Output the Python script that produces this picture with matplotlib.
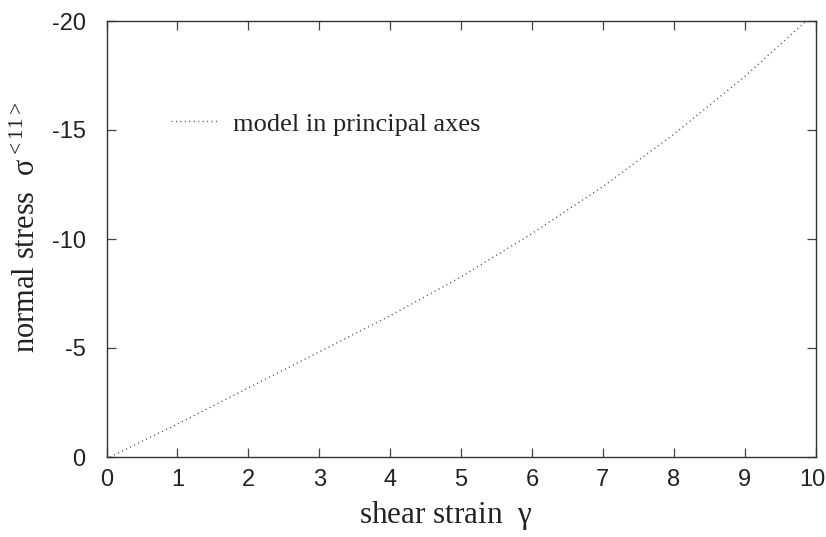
import matplotlib
matplotlib.use("Agg")
import matplotlib.pyplot as plt
from matplotlib.transforms import ScaledTranslation

# data
gamma = [0.05, 1.0, 2.0, 3.0, 4.0, 5.0, 6.0, 7.0, 8.0, 9.0, 9.87]
sigma11 = [0.0, -1.51, -3.17, -4.82, -6.48, -8.26, -10.25, -12.40, -14.80, -17.45, -20.0]

xticks = [0, 1, 2, 3, 4, 5, 6, 7, 8, 9, 10]
yticks = [0, -5, -10, -15, -20]

plt.rcParams['mathtext.fontset'] = 'custom'
plt.rcParams['mathtext.rm'] = 'Liberation Serif'
plt.rcParams['mathtext.it'] = 'Liberation Serif'

W, H = 826, 537
fig = plt.figure(figsize=(W / 100, H / 100), dpi=100)
L, R, T, B = 106.5, 815.5, 21, 457
ax = fig.add_axes([L / W, 1 - B / H, (R - L) / W, (B - T) / H])

ax.plot(gamma, sigma11, color='#555555', lw=1.0, linestyle=(0, (0.8, 2.4)),
        label='model in principal axes')

ax.set_xlim(0, 10)
ax.set_ylim(0, -20)
ax.set_xticks(xticks)
ax.set_yticks(yticks)
ax.set_xticklabels([str(v) for v in xticks], family='Liberation Sans', fontsize=17)
ax.set_yticklabels([str(v) for v in yticks], family='Liberation Sans', fontsize=17)
ax.tick_params(axis='both', which='major', direction='in', length=6.5, width=0.9,
               color='#444444', top=True, right=True, labelcolor='#222222')
ax.tick_params(axis='x', pad=9)
ax.tick_params(axis='y', pad=15)
for s in ax.spines.values():
    s.set_color('#333333')
    s.set_linewidth(1.0)

# keep the last x tick label inside the canvas
last = ax.get_xticklabels()[-1]
last.set_transform(last.get_transform() + ScaledTranslation(-3.5 / 100, 0, fig.dpi_scale_trans))

leg = ax.legend(loc='center left',
                bbox_to_anchor=((171 - L) / (R - L), (B - 124) / (B - T)),
                frameon=False, borderpad=0, borderaxespad=0,
                handlelength=1.78, handletextpad=0.57,
                prop={'family': 'Liberation Serif', 'size': 19})
for t in leg.get_texts():
    t.set_color('#222222')

fig.text(446 / W, 1 - 516 / H, r'shear strain  $\gamma$', family='Liberation Serif',
         fontsize=22.5, ha='center', va='center', color='#222222')
fig.text(27 / W, 1 - 227 / H, r'normal stress  $\sigma^{<11>}$', family='Liberation Serif',
         fontsize=22, ha='center', va='center', rotation=90, color='#222222')

fig.savefig('out.png', dpi=100)
